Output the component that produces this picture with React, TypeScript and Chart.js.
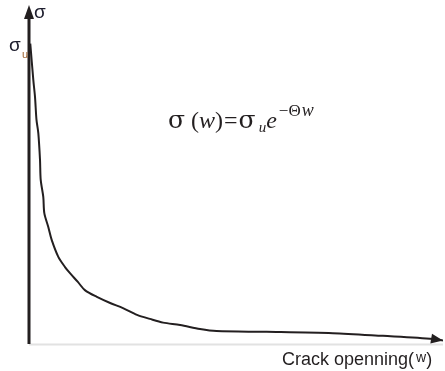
import React, { useEffect, useRef } from "react";
import { Chart, registerables } from "chart.js";

Chart.register(...registerables);

// Crack opening w (relative units) and cohesive stress σ (relative units)
const crackOpening = [
  0.31, 1.04, 1.45, 1.81, 2.25, 2.66, 2.83, 3.45, 3.7, 4.66, 5.48, 7.08, 8.7,
  9.9, 11.8, 13.5, 16.4, 19.6, 22.7, 26.1, 29.2, 32.4, 36.5, 41.3, 45.3, 57.4,
  73.4, 85.5, 97.6, 100,
];
const stress = [
  88.6, 77.9, 72.9, 66.1, 62.2, 54.3, 48.4, 43.4, 38.6, 34.5, 30.7, 25.7, 22.7,
  20.9, 18.3, 15.9, 13.9, 12.1, 10.6, 8.6, 7.4, 6.3, 5.6, 4.4, 3.8, 3.6, 3.2,
  2.4, 1.5, 1.0,
];

const xLabel = "Crack openning(";
const xLabelVar = "w";
const yLabel = "σ";
const peakLabel = "σ";
const peakSub = "u";

const INK = "#231f20";

const annotate = {
  id: "annotate",
  afterDatasetsDraw(chart: any) {
    const { ctx, chartArea, scales } = chart;
    const xs = scales.x;
    const ys = scales.y;
    const x0 = xs.getPixelForValue(0);
    const y0 = ys.getPixelForValue(0);
    const yTop = chartArea.top;
    ctx.save();

    // light baseline (w axis)
    ctx.strokeStyle = "#e2e2e2";
    ctx.lineWidth = 2;
    ctx.beginPath();
    ctx.moveTo(x0, y0 + 0.5);
    ctx.lineTo(chartArea.right, y0 + 0.5);
    ctx.stroke();

    // σ axis with arrow
    ctx.strokeStyle = INK;
    ctx.fillStyle = INK;
    ctx.lineWidth = 3;
    ctx.beginPath();
    ctx.moveTo(x0, y0);
    ctx.lineTo(x0, yTop + 10);
    ctx.stroke();
    ctx.beginPath();
    ctx.moveTo(x0, yTop);
    ctx.lineTo(x0 - 5, yTop + 14);
    ctx.lineTo(x0 + 5, yTop + 14);
    ctx.closePath();
    ctx.fill();

    // arrow head at the curve end
    const n = crackOpening.length;
    const tx = xs.getPixelForValue(crackOpening[n - 1]);
    const ty = ys.getPixelForValue(stress[n - 1]);
    const px = xs.getPixelForValue(crackOpening[n - 2]);
    const py = ys.getPixelForValue(stress[n - 2]);
    const ang = Math.atan2(ty - py, tx - px);
    const len = 12;
    const hw = 5;
    const bx = tx - len * Math.cos(ang);
    const by = ty - len * Math.sin(ang);
    ctx.beginPath();
    ctx.moveTo(tx, ty);
    ctx.lineTo(bx - hw * Math.sin(ang), by + hw * Math.cos(ang));
    ctx.lineTo(bx + hw * Math.sin(ang), by - hw * Math.cos(ang));
    ctx.closePath();
    ctx.fill();

    // axis labels
    ctx.textBaseline = "alphabetic";
    ctx.textAlign = "left";
    ctx.fillStyle = "#1e1e2e";
    ctx.font = "19px 'Liberation Sans', Arial, sans-serif";
    ctx.fillText(yLabel, x0 + 5, yTop + 13);

    const peakY = ys.getPixelForValue(stress[0]);
    ctx.fillText(peakLabel, x0 - 20, peakY + 7);
    ctx.fillStyle = "#9a5e2c";
    ctx.font = "11px 'Liberation Sans', Arial, sans-serif";
    ctx.fillText(peakSub, x0 - 7, peakY + 14);

    ctx.fillStyle = INK;
    ctx.font = "18px 'Liberation Sans', Arial, sans-serif";
    const lx = 282;
    const ly = 365;
    ctx.fillText(xLabel, lx, ly);
    let cx = lx + ctx.measureText(xLabel).width + 2;
    ctx.font = "14px 'Liberation Sans', Arial, sans-serif";
    ctx.fillText(xLabelVar, cx, ly - 3);
    cx += ctx.measureText(xLabelVar).width;
    ctx.font = "18px 'Liberation Sans', Arial, sans-serif";
    ctx.fillText(")", cx, ly);

    // σ(w) = σu e^(−Θw)
    const parts: [string, string, number, number][] = [
      ["σ", "25px 'DejaVu Serif', serif", 0, 0],
      [" (", "24px 'Liberation Serif', serif", 0, 0],
      ["w", "italic 24px 'Liberation Serif', serif", 0, 0],
      [")", "24px 'Liberation Serif', serif", 0, 1],
      ["=", "24px 'Liberation Serif', serif", 0, 1],
      ["σ", "25px 'DejaVu Serif', serif", 0, 3],
      ["u", "italic 15px 'Liberation Serif', serif", 4, 0],
      ["e", "italic 24px 'Liberation Serif', serif", 0, 2],
      ["−Θ", "17px 'Liberation Serif', serif", -12, 1],
      ["w", "italic 18px 'Liberation Serif', serif", -12, 0],
    ];
    let fx = 168;
    const fy = 128;
    for (const [t, f, dy, gap] of parts) {
      ctx.font = f;
      ctx.fillText(t, fx, fy + dy);
      fx += ctx.measureText(t).width + gap;
    }
    ctx.restore();
  },
};

export default function App() {
  const ref = useRef<HTMLCanvasElement | null>(null);
  useEffect(() => {
    if (!ref.current) return;
    const chart = new Chart(ref.current, {
      type: "line",
      data: {
        datasets: [
          {
            data: crackOpening.map((w, i) => ({ x: w, y: stress[i] })),
            borderColor: INK,
            borderWidth: 2,
            pointRadius: 0,
            tension: 0.3,
            fill: false,
          },
        ],
      },
      options: {
        animation: false,
        responsive: false,
        maintainAspectRatio: false,
        layout: { padding: { left: 29, right: 2, top: 5, bottom: 27 } },
        plugins: { legend: { display: false }, tooltip: { enabled: false } },
        scales: {
          x: { type: "linear", min: 0, max: 100, display: false },
          y: { type: "linear", min: 0, max: 100, display: false },
        },
      },
      plugins: [annotate],
    });
    return () => chart.destroy();
  }, []);
  return (
    <div style={{ position: "fixed", left: 0, top: 0, width: 445, height: 371, background: "#fff" }}>
      <canvas ref={ref} width={445} height={371} style={{ width: 445, height: 371 }} />
    </div>
  );
}
